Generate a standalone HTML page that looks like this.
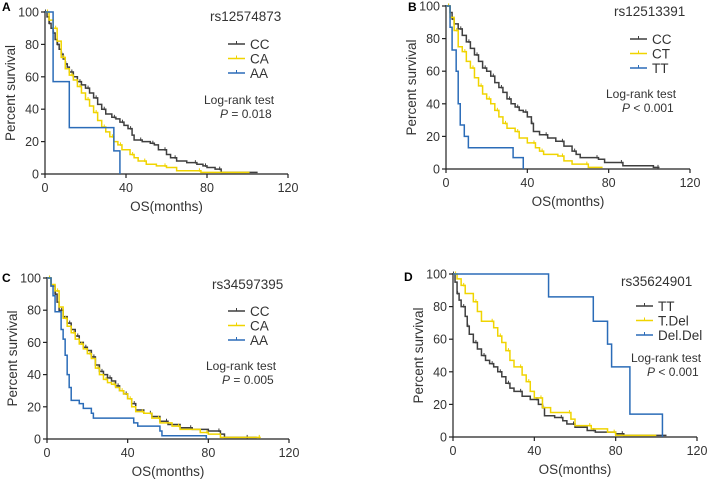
<!DOCTYPE html>
<html><head><meta charset="utf-8"><style>
body{margin:0;background:#fff}
svg{font-family:"Liberation Sans",Arial,sans-serif;display:block}
</style></head><body>
<svg id="fig" width="708" height="479" viewBox="0 0 708 479"></svg>
<script>
const xTicks=[0,40,80,120];
const yTicks=[0,20,40,60,80,100];
// Panel A
const aCC_t=[0,1,2,3,4,5,6,7,8,9,10,11,12,14,16,18,20,22,24,26,28,30,33,35,37,39,41,43,44,48,52,54,56,60,62,65,70,75,78,80,84,87,105];
const aCC_s=[100,97,93,90,87,83,80,77,74,71,68,66,63,60,57,55,53,50,47,43,40,37,35,34,32,30,28,24,21,20,19,18,15,12,10,8,7,6,5,4,3,1,1];
const aCA_t=[0,2,4,6,8,10,12,14,16,18,20,22,24,26,28,30,32,34,36,38,42,44,46,50,55,60,65,77,101];
const aCA_s=[100,95,90,82,72,65,61,58,54,50,46,42,38,33,29,26,23,20,18,15,12,10,8,6,5,4,2,1,1];
const aAA_t=[0,4,12,34,37];
const aAA_s=[100,57,28.6,14.3,0];
// Panel B
const bCC_t=[0,2,3,4,6,8,10,12,14,16,18,20,22,24,26,28,30,32,34,36,38,40,42,43,46,50,54,58,62,64,66,75,78,87,102,105];
const bCC_s=[100,96,92,89,86,82,78,74,70,66,62,60,57,53,50,47,43,40,38,36,35,32,28,23,21,19,17,14,11,9,7,6,4,2,1,1];
const bCT_t=[0,2,4,6,8,10,12,14,16,18,20,22,24,26,28,30,34,36,40,44,46,48,55,58,62,70,77];
const bCT_s=[100,93,85,75,72,66,62,56,51,46,43,40,36,32,28,25,23,19,16,13,11,9,8,5,3,1,1];
const bTT_t=[0,2,3,5,6,7,9,11,33,38];
const bTT_s=[100,87,73,60,40,27,20,13,7,0];
// Panel C
const cCC_t=[0,2,4,5,6,8,10,12,14,16,18,20,22,24,26,28,30,32,34,36,38,40,42,44,48,52,56,60,66,72,80,86,88,100,104];
const cCC_s=[100,95,90,85,80,76,72,68,64,60,57,55,51,46,42,40,38,36,33,30,28,25,22,18,16,14,11,9,7,6,5,3,1,1,1];
const cCA_t=[0,2,4,6,8,10,12,14,16,18,20,22,24,26,28,30,32,34,36,38,40,42,44,48,52,56,62,66,76,80,86,106];
const cCA_s=[100,96,92,82,75,70,66,62,59,56,53,50,44,40,37,35,34,32,30,28,25,20,17,16,13,10,8,6,4,3,1,1];
const cAA_t=[0,2,3,4,7,8,9,10,11,12,16,18,22,23,43,45,56,57,79];
const cAA_s=[100,95,89,79,68,62,52,40,32,24,22,19,16,13,10,8,5,2,0];
// Panel D
const dTT_t=[0,1,2,3,4,6,7,8,10,12,14,16,18,20,22,24,26,28,30,34,38,42,44,45,50,54,56,60,66,70,80,84,105];
const dTT_s=[100,95,88,84,80,74,68,63,58,54,50,47,45,43,40,37,33,30,28,25,23,20,18,13,12,10,8,6,4,3,2,1,1];
const dTD_t=[0,2,4,6,10,12,14,20,22,24,26,28,30,34,36,38,40,44,48,58,60,68,76,80,100];
const dTD_s=[100,97,93,88,83,77,71,67,62,58,53,47,43,38,34,28,24,18,15,11,7,5,3,1,1];
const dDD_t=[0,47,69,76,78,87,103];
const dDD_s=[100,86,71,57,43,14,0];

const DARK="#3f3f3f",YEL="#f0d400",BLUE="#2b6cb8";
const panels=[
 {id:"a",letter:"A",lx:2,ly:11,x0:45,x1:288,y100:12,y0:174,title:"rs12574873",tx:210,ty:21,legx:228,legy:44,names:["CC","CA","AA"],p:"P = 0.018",lrx:204,lry:104,
  series:[[aCC_t,aCC_s,DARK],[aCA_t,aCA_s,YEL],[aAA_t,aAA_s,BLUE]]},
 {id:"b",letter:"B",lx:408,ly:11,x0:446,x1:690,y100:6,y0:169,title:"rs12513391",tx:614,ty:16,legx:630,legy:39,names:["CC","CT","TT"],p:"P < 0.001",lrx:606,lry:98,
  series:[[bCC_t,bCC_s,DARK],[bCT_t,bCT_s,YEL],[bTT_t,bTT_s,BLUE]]},
 {id:"c",letter:"C",lx:2,ly:282,x0:47,x1:289,y100:278,y0:439,title:"rs34597395",tx:212,ty:289,legx:228,legy:311,names:["CC","CA","AA"],p:"P = 0.005",lrx:206,lry:370,
  series:[[cCC_t,cCC_s,DARK],[cCA_t,cCA_s,YEL],[cAA_t,cAA_s,BLUE]]},
 {id:"d",letter:"D",lx:404,ly:281,x0:453,x1:697,y100:274,y0:437,title:"rs35624901",tx:621,ty:286,legx:636,legy:306,names:["TT","T.Del","Del.Del"],p:"P < 0.001",lrx:631,lry:362,
  series:[[dTT_t,dTT_s,DARK],[dTD_t,dTD_s,YEL],[dDD_t,dDD_s,BLUE]]}
];
const svg=document.getElementById("fig");
const NS="http://www.w3.org/2000/svg";
function mk(tag,attrs,parent,txt){const e=document.createElementNS(NS,tag);for(const k in attrs)e.setAttribute(k,attrs[k]);if(txt!==undefined)e.textContent=txt;parent.appendChild(e);return e;}
panels.forEach(P=>{
  const g=mk("g",{},svg);
  
  
  const X=v=>P.x0+(P.x1-P.x0)*v/120;
  const Y=v=>P.y0-(P.y0-P.y100)*v/100;
  const L=mk("text",{x:P.lx,y:P.ly,"font-size":"12","font-weight":"bold",fill:"#000"},g,P.letter);
  
  
  // axes
  const ax=mk("path",{d:`M${P.x0},${P.y100-1}V${P.y0}H${P.x1}`,stroke:"#222","stroke-width":"1.2",fill:"none"},g);
  
  
  yTicks.forEach(v=>{
    mk("line",{x1:P.x0-4,x2:P.x0,y1:Y(v),y2:Y(v),stroke:"#222","stroke-width":"1.2"},g);
    const t=mk("text",{x:P.x0-6,y:Y(v)+4.5,"font-size":"12.5","text-anchor":"end",fill:"#333"},g,String(v));
    
    
  });
  xTicks.forEach(v=>{
    mk("line",{x1:X(v),x2:X(v),y1:P.y0,y2:P.y0+4,stroke:"#222","stroke-width":"1.2"},g);
    const t=mk("text",{x:X(v),y:P.y0+18,"font-size":"12.5","text-anchor":"middle",fill:"#333"},g,String(v));
    
    
  });
  const xt=mk("text",{x:(P.x0+P.x1)/2,y:P.y0+37,"font-size":"13.5","text-anchor":"middle",fill:"#333"},g,"OS(months)");
  
  
  const ym=(P.y0+P.y100)/2;
  const yt=mk("text",{x:P.x0-30,y:ym,"font-size":"13.5","text-anchor":"middle",fill:"#333",transform:`rotate(-90 ${P.x0-30} ${ym})`},g,"Percent survival");
  
  
  // series
  P.series.forEach((S,si)=>{
    const [ts,ss,col]=S;
    let d=`M${X(ts[0])},${Y(ss[0])}`;
    for(let i=1;i<ts.length;i++){d+=`H${X(ts[i])}V${Y(ss[i])}`;}
    const pth=mk("path",{d:d,stroke:col,"stroke-width":"1.5",fill:"none"},g);
    
    
    if(col!==BLUE){
      for(let i=1;i<ts.length;i+=2){
        const tk=mk("line",{x1:X(ts[i])-1.5,x2:X(ts[i])-1.5,y1:Y(ss[i-1])-2.5,y2:Y(ss[i-1])+1,stroke:col,"stroke-width":"1"},g);
        
        
      }
    }
    // legend
    const ly=P.legy+si*14.5;
    const lg=mk("g",{},g);
    
    
    mk("line",{x1:P.legx,x2:P.legx+17,y1:ly,y2:ly,stroke:col,"stroke-width":"1.5"},lg);
    mk("line",{x1:P.legx+8.5,x2:P.legx+8.5,y1:ly-3,y2:ly,stroke:col,"stroke-width":"1"},lg);
    mk("text",{x:P.legx+22,y:ly+5,"font-size":"13.5",fill:"#333"},lg,P.names[si]);
  });
  const ti=mk("text",{x:P.tx,y:P.ty,"font-size":"13.5",fill:"#333"},g,P.title);
  
  
  const lr=mk("text",{x:P.lrx,y:P.lry,"font-size":"12",fill:"#333"},g,"Log-rank test");
  
  
  const pv=mk("text",{x:P.lrx+16,y:P.lry+14,"font-size":"12",fill:"#333"},g);
  
  
  mk("tspan",{"font-style":"italic"},pv,"P");
  mk("tspan",{},pv,P.p.slice(1));
});
</script>
</body></html>
